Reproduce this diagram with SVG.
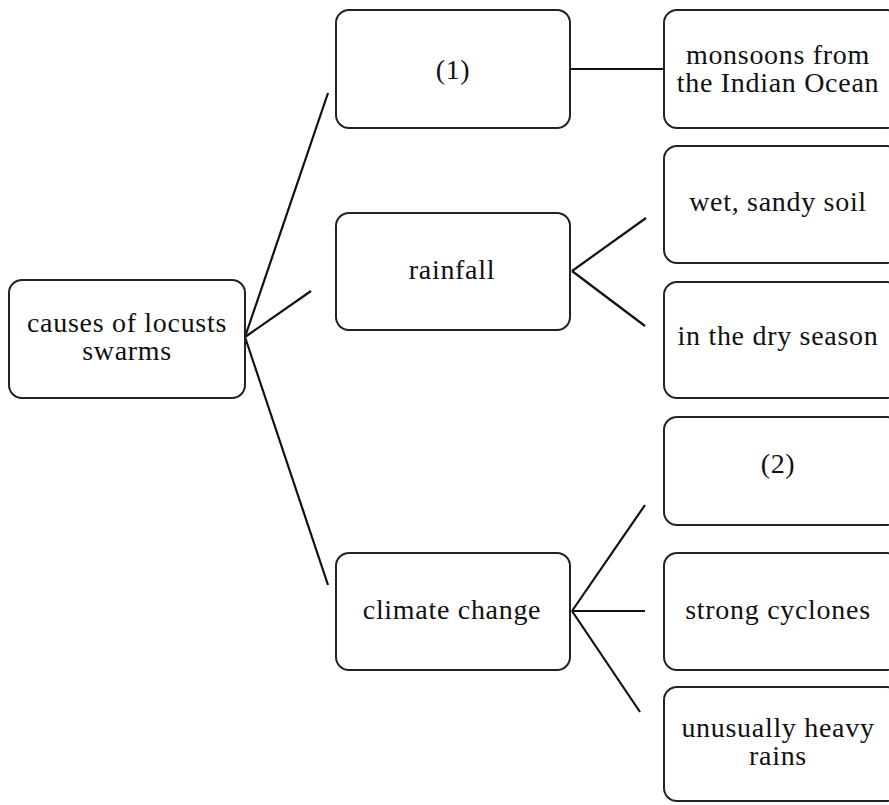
<svg xmlns="http://www.w3.org/2000/svg" width="889" height="805" viewBox="0 0 889 805">
<style>
.box{fill:#fff;stroke:#222;stroke-width:2}
.t{font-family:"Liberation Serif","Times New Roman",serif;font-size:28px;letter-spacing:0.7px;fill:#111;text-anchor:middle}
.c{stroke:#111;stroke-width:2.2;fill:none}
</style>
<rect width="889" height="805" fill="#fff"/>
<g id="connectors">
<line class="c" x1="245" y1="337" x2="328" y2="93"/>
<line class="c" x1="245" y1="337" x2="311" y2="291"/>
<line class="c" x1="245" y1="337" x2="328" y2="585"/>
<line class="c" x1="570" y1="69" x2="664" y2="69"/>
<line class="c" x1="572" y1="271" x2="646" y2="218"/>
<line class="c" x1="572" y1="271" x2="645" y2="326"/>
<line class="c" x1="572" y1="611" x2="645" y2="505"/>
<line class="c" x1="572" y1="611" x2="645" y2="611"/>
<line class="c" x1="572" y1="611" x2="640" y2="712"/>
</g>
<g id="root"><rect class="box" x="9" y="280" width="236" height="118" rx="13"/><text class="t" x="127" y="332">causes of locusts</text><text class="t" x="127" y="360">swarms</text></g>
<g id="n1"><rect class="box" x="336" y="10" width="234" height="118" rx="13"/><text class="t" x="453" y="79">(1)</text></g>
<g id="monsoons"><rect class="box" x="664" y="10" width="236" height="118" rx="13"/><text class="t" x="778" y="64">monsoons from</text><text class="t" x="778" y="92">the Indian Ocean</text></g>
<g id="rainfall"><rect class="box" x="336" y="213" width="234" height="117" rx="13"/><text class="t" x="452" y="279">rainfall</text></g>
<g id="wet"><rect class="box" x="664" y="146" width="236" height="117" rx="13"/><text class="t" x="778" y="211">wet, sandy soil</text></g>
<g id="dry"><rect class="box" x="664" y="282" width="236" height="116" rx="13"/><text class="t" x="778" y="345">in the dry season</text></g>
<g id="n2"><rect class="box" x="664" y="417" width="236" height="108" rx="13"/><text class="t" x="778" y="473">(2)</text></g>
<g id="climate"><rect class="box" x="336" y="553" width="234" height="117" rx="13"/><text class="t" x="452" y="619">climate change</text></g>
<g id="cyclones"><rect class="box" x="664" y="553" width="236" height="117" rx="13"/><text class="t" x="778" y="619">strong cyclones</text></g>
<g id="rains"><rect class="box" x="664" y="687" width="236" height="114" rx="13"/><text class="t" x="778" y="737">unusually heavy</text><text class="t" x="778" y="765">rains</text></g>
</svg>
